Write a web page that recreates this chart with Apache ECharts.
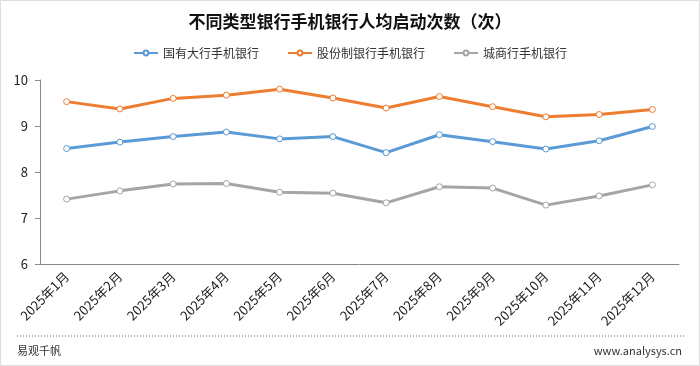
<!DOCTYPE html>
<html><head><meta charset="utf-8">
<script src="https://cdn.jsdelivr.net/npm/echarts@6/dist/echarts.min.js"></script>
<style>html,body{margin:0;padding:0;background:#fff}#c{width:700px;height:366px}</style>
</head><body><div id="c"></div>
<script>
const categories = ['2025年1月','2025年2月','2025年3月','2025年4月','2025年5月','2025年6月','2025年7月','2025年8月','2025年9月','2025年10月','2025年11月','2025年12月'];
const bigBanks = [8.51,8.65,8.77,8.87,8.72,8.77,8.42,8.81,8.66,8.50,8.68,8.99];
const jointStock = [9.53,9.37,9.60,9.67,9.80,9.61,9.39,9.64,9.42,9.20,9.25,9.36];
const cityBanks = [7.41,7.59,7.74,7.75,7.56,7.54,7.33,7.68,7.65,7.28,7.48,7.72];
const seriesNames = ['国有大行手机银行','股份制银行手机银行','城商行手机银行'];
const colors = ['#5B9BD5','#ED7D31','#A5A5A5'];
const font = '"Noto Sans CJK SC", sans-serif';
const chart = echarts.init(document.getElementById('c'));
const mk = (name, data, color) => ({
  name, type:'line', data, symbol:'circle', symbolSize:6,
  lineStyle:{width:3,color}, itemStyle:{color:'#fff',borderColor:color,borderWidth:1},
  emphasis:{disabled:true}
});
chart.setOption({
  animation:false,
  backgroundColor:'#fff',
  title:{text:'不同类型银行手机银行人均启动次数（次）',left:'center',top:8,
    textStyle:{fontFamily:font,fontSize:17,fontWeight:'bold',color:'#111'}},
  legend:{top:42,left:'center',itemGap:28,itemWidth:24,itemHeight:6,
    data:seriesNames.map((n,i)=>({name:n,itemStyle:{color:'#fff',borderColor:colors[i]}})),
    textStyle:{fontFamily:font,fontSize:12,color:'#333'}},
  grid:{left:40,right:21,top:80,bottom:102,containLabel:false},
  xAxis:{type:'category',data:categories,boundaryGap:true,
    axisLine:{lineStyle:{color:'#888'}},axisTick:{show:false},
    axisLabel:{rotate:45,fontFamily:font,fontSize:13,color:'#222',margin:10}},
  yAxis:{type:'value',min:6,max:10,interval:1,
    axisLine:{show:true,lineStyle:{color:'#888'}},axisTick:{show:true,length:5,lineStyle:{color:'#888'}},
    splitLine:{show:false},
    axisLabel:{fontFamily:font,fontSize:13,color:'#222',margin:12}},
  series:[mk(seriesNames[0],bigBanks,colors[0]),mk(seriesNames[1],jointStock,colors[1]),mk(seriesNames[2],cityBanks,colors[2])],
  graphic:[
    {type:'rect',shape:{x:0.5,y:0.5,width:699,height:365},style:{fill:'none',stroke:'#ddd',lineWidth:1}},
    {type:'line',shape:{x1:17,y1:336,x2:684,y2:336},style:{stroke:'#666',lineWidth:1,lineDash:[1,2]}},
    {type:'text',left:17,top:345,style:{text:'易观千帆',font:'11px '+font,fill:'#333'}},
    {type:'text',right:18,top:345,style:{text:'www.analysys.cn',font:'11px '+font,fill:'#333'}}
  ]
});
</script></body></html>
